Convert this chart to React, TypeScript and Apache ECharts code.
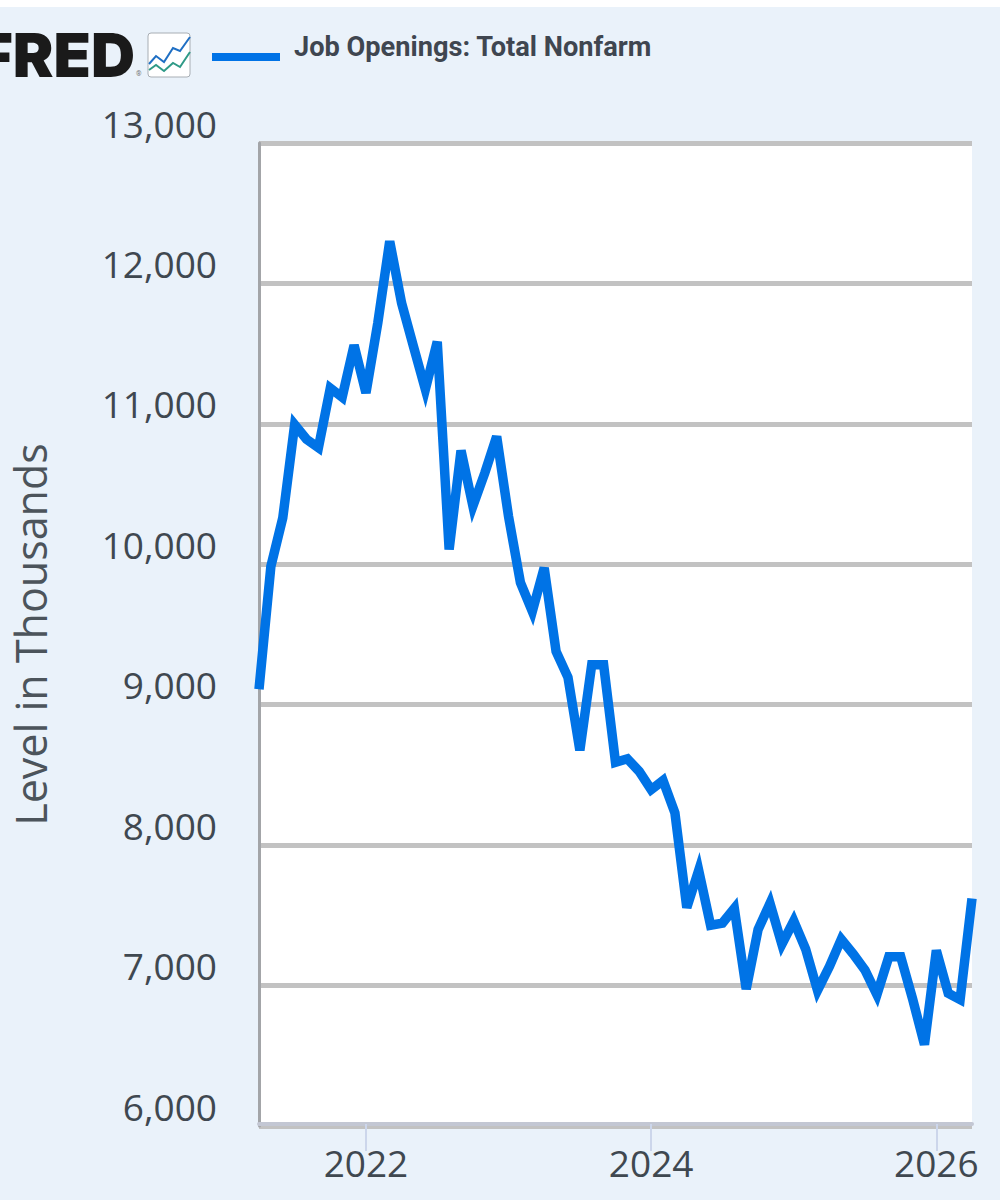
import React, { useEffect, useRef } from "react";
import * as echarts from "echarts";

const seriesName = "Job Openings: Total Nonfarm";
const yTitle = "Level in Thousands";
const months = [
  "2021-04","2021-05","2021-06","2021-07","2021-08","2021-09","2021-10","2021-11","2021-12",
  "2022-01","2022-02","2022-03","2022-04","2022-05","2022-06","2022-07","2022-08","2022-09","2022-10","2022-11","2022-12",
  "2023-01","2023-02","2023-03","2023-04","2023-05","2023-06","2023-07","2023-08","2023-09","2023-10","2023-11","2023-12",
  "2024-01","2024-02","2024-03","2024-04","2024-05","2024-06","2024-07","2024-08","2024-09","2024-10","2024-11","2024-12",
  "2025-01","2025-02","2025-03","2025-04","2025-05","2025-06","2025-07","2025-08","2025-09","2025-10","2025-11","2025-12",
  "2026-01","2026-02","2026-03","2026-04",
];
const openings = [
  9110, 9985, 10330, 10995, 10890, 10830, 11255, 11190, 11560,
  11220, 11720, 12300, 11860, 11550, 11245, 11585, 10105, 10810, 10415, 10650, 10910,
  10340, 9870, 9665, 9975, 9380, 9195, 8675, 9285, 9285, 8590, 8615, 8525,
  8395, 8460, 8230, 7555, 7820, 7430, 7445, 7550, 6975, 7400, 7585, 7295,
  7460, 7260, 6965, 7135, 7330, 7225, 7110, 6935, 7205, 7205, 6905, 6580,
  7250, 6945, 6900, 7620,
];
const tickMonths = ["2022-01", "2024-01", "2026-01"];

const sans = "'Open Sans'";

export default function App() {
  const ref = useRef<HTMLDivElement>(null);
  useEffect(() => {
    const chart = echarts.init(ref.current!, null, { renderer: "svg" });
    chart.setOption({
      animation: false,
      backgroundColor: "transparent",
      grid: {
        show: true, backgroundColor: "#ffffff", borderWidth: 0,
        left: 259, right: 28, top: 143, height: 983, containLabel: false,
        outerBoundsMode: "none",
      },
      legend: {
        show: true, left: 212, top: 33, padding: 0, itemWidth: 77, itemHeight: 28, itemGap: 14,
        icon: "path://M0,0H77V0H0Z M0,20H68V28H0Z",
        data: [seriesName],
        textStyle: {
          fontFamily: "Roboto", fontWeight: 700, fontSize: 27.2, color: "#3f4650",
        },
      },
      xAxis: {
        type: "category",
        data: months,
        boundaryGap: false,
        offset: -2,
        axisLine: { show: true, lineStyle: { color: "#c3c7d3", width: 4 } },
        axisTick: {
          show: true, length: 27, alignWithLabel: true,
          interval: (_: number, v: string) => tickMonths.includes(v),
          lineStyle: { color: "#ccd6eb", width: 2 },
        },
        axisLabel: {
          interval: (_: number, v: string) => tickMonths.includes(v),
          formatter: (v: string) => v.slice(0, 4),
          fontFamily: sans, fontSize: 37, color: "#3f4850", margin: 20,
          showMinLabel: true, showMaxLabel: true, hideOverlap: false,
        },
        splitLine: { show: false },
      },
      yAxis: {
        type: "value",
        min: 6000, max: 13000, interval: 1000,
        name: yTitle,
        nameLocation: "middle",
        nameGap: 207,
        nameTextStyle: { fontFamily: sans, fontSize: 43, color: "#4c545b" },
        axisLine: { show: true, lineStyle: { color: "#a3a5a8", width: 3 } },
        axisTick: { show: false },
        axisLabel: {
          fontFamily: sans, fontSize: 37, color: "#3f4850", margin: 42,
          verticalAlign: "bottom", lineHeight: 40,
        },
        splitLine: { show: true, lineStyle: { color: "#c2c2c2", width: 5 } },
      },
      series: [{
        name: seriesName,
        type: "line",
        data: openings,
        showSymbol: false,
        symbol: "none",
        color: "#0073e6",
        lineStyle: { color: "#0073e6", width: 9.5, join: "miter", miterLimit: 4, cap: "butt" },
      }],
      graphic: [
        {
          type: "text", x: 135, y: 55,
          style: {
            text: "FRED", fill: "#1a1a1a", fontFamily: "Inter", fontWeight: 900, fontSize: 61,
            textAlign: "right", textVerticalAlign: "middle",
          },
        },
        {
          type: "text", x: 136, y: 74,
          style: { text: "®", fill: "#777777", fontFamily: "Roboto", fontSize: 7, textVerticalAlign: "middle" },
        },
        {
          type: "rect", shape: { x: 148, y: 33, width: 42, height: 44, r: 3 },
          style: { fill: "#ffffff", stroke: "#a8aeb4", lineWidth: 1 },
        },
        {
          type: "polyline",
          shape: { points: [[149, 64], [156, 56], [164, 62], [173, 48], [180, 51], [190, 37]] },
          style: { fill: "none", stroke: "#1f6fc4", lineWidth: 2 },
        },
        {
          type: "polyline",
          shape: { points: [[149, 70], [156, 65], [164, 71], [173, 63], [180, 67], [190, 52]] },
          style: { fill: "none", stroke: "#2f9a87", lineWidth: 2 },
        },
      ],
    });
    return () => chart.dispose();
  }, []);
  return (
    <div
      ref={ref}
      style={{
        position: "absolute", left: 0, top: 0, width: 1000, height: 1200,
        background: "linear-gradient(#ffffff 7px, #eaf2fa 7px)",
      }}
    />
  );
}
